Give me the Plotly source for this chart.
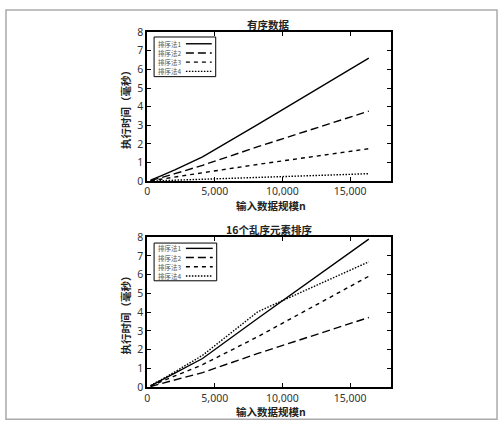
import plotly.graph_objects as go

W, H = 501, 430

# ---- data ----
n = [256, 512, 1024, 2048, 4096, 8192, 16384]
names = ["排序法1", "排序法2", "排序法3", "排序法4"]

sorted_s1 = [0.05, 0.12, 0.28, 0.60, 1.30, 3.05, 6.60]
sorted_s2 = [0.03, 0.08, 0.18, 0.40, 0.85, 1.85, 3.76]
sorted_s3 = [0.02, 0.05, 0.10, 0.22, 0.45, 0.90, 1.74]
sorted_s4 = [0.00, 0.01, 0.02, 0.05, 0.10, 0.20, 0.40]

random_s1 = [0.07, 0.16, 0.36, 0.75, 1.53, 3.68, 7.90]
random_s2 = [0.04, 0.09, 0.20, 0.40, 0.78, 1.80, 3.72]
random_s3 = [0.06, 0.14, 0.30, 0.60, 1.20, 2.70, 5.92]
random_s4 = [0.08, 0.18, 0.40, 0.82, 1.70, 4.03, 6.69]

titles = ["有序数据", "16个乱序元素排序"]
x_title = "输入数据规模n"
y_title = "执行时间（毫秒）"
x_ticks = [0, 5000, 10000, 15000]
x_ticklabels = ["0", "5,000", "10,000", "15,000"]
y_ticks = [0, 1, 2, 3, 4, 5, 6, 7, 8]

dashes = ["solid", "8px,4px", "4px,4px", "1.5px,1.5px"]

FONT = "Noto Sans CJK SC"

def px(x):
    return x / W

def py(y):
    return 1 - y / H

fig = go.Figure()

panels = [
    ("x", "y", [sorted_s1, sorted_s2, sorted_s3, sorted_s4]),
    ("x2", "y2", [random_s1, random_s2, random_s3, random_s4]),
]
for xa, ya, series in panels:
    for name, vals, d in zip(names, series, dashes):
        fig.add_trace(go.Scatter(
            x=n, y=vals, mode="lines", name=name, xaxis=xa, yaxis=ya,
            line=dict(color="black", width=1.4, dash=d), showlegend=False,
        ))

# plot geometry (pixels)
left, right = 145, 390
panel_y = [(26, 180), (238, 393)]

axis_common = dict(
    showline=True, linecolor="black", linewidth=1.5, mirror="allticks",
    ticks="inside", ticklen=4, tickwidth=1.2, tickcolor="black",
    showgrid=False, zeroline=False,
    tickfont=dict(family="Noto Sans", size=10.5, color="#333"),
)

layout = dict(
    width=W, height=H, margin=dict(l=0, r=0, t=0, b=0),
    paper_bgcolor="white", plot_bgcolor="white",
    font=dict(family=FONT),
)
for i, (top, bot) in enumerate(panel_y):
    sx = "" if i == 0 else "2"
    layout["xaxis" + sx] = dict(
        axis_common, domain=[px(left), px(right)], range=[0, 18000],
        tickvals=x_ticks, ticktext=x_ticklabels,
        anchor="y" + sx,
    )
    layout["yaxis" + sx] = dict(
        axis_common, domain=[py(bot), py(top)], range=[0, 8],
        tickvals=y_ticks, anchor="x" + sx,
    )
fig.update_layout(**layout)

annotations = []
shapes = []

# outer frame
shapes.append(dict(type="rect", xref="paper", yref="paper",
                   x0=px(3), x1=px(497), y0=py(426), y1=py(3),
                   line=dict(color="#aaaaaa", width=1.5)))

def ann(text, x, y, size, color, angle=0, xanchor="center"):
    return dict(text=text, x=px(x), y=py(y), xref="paper", yref="paper",
                xanchor=xanchor, yanchor="middle", showarrow=False, textangle=angle,
                font=dict(family=FONT, size=size, color=color))

for i, (top, bot) in enumerate(panel_y):
    cx = (left + right) / 2
    annotations.append(ann("<b>" + titles[i] + "</b>", cx, top - 8, 10.5, "#222"))
    annotations.append(ann("<b>" + x_title + "</b>", cx + 2, bot + 25, 10.5, "#222"))
    annotations.append(ann("<b>" + y_title + "</b>", 123, (top + bot) / 2, 10.5, "#222", angle=-90))

# custom legends (sample to the right of the text)
legend_boxes = [
    (152, 214, 31, 72, [38, 47.5, 57, 66.5]),
    (152, 215, 244, 283, [249.5, 259, 268.5, 278]),
]
for (lx0, lx1, ly0, ly1, rows) in legend_boxes:
    shapes.append(dict(type="rect", xref="paper", yref="paper",
                       x0=px(lx0), x1=px(lx1), y0=py(ly1), y1=py(ly0),
                       line=dict(color="black", width=1), fillcolor="white", layer="above"))
    for name, d, ry in zip(names, dashes, rows):
        annotations.append(ann(name, lx0 + 2, ry, 6.5, "#555", xanchor="left"))
        shapes.append(dict(type="line", xref="paper", yref="paper",
                           x0=px(lx0 + 32), x1=px(lx1 - 4), y0=py(ry), y1=py(ry),
                           line=dict(color="black", width=1.4, dash=d), layer="above"))

fig.update_layout(annotations=annotations, shapes=shapes)
fig.write_html("out.html", config={"displayModeBar": False},
               post_script="document.body.style.margin='0';document.body.style.overflow='hidden';")
